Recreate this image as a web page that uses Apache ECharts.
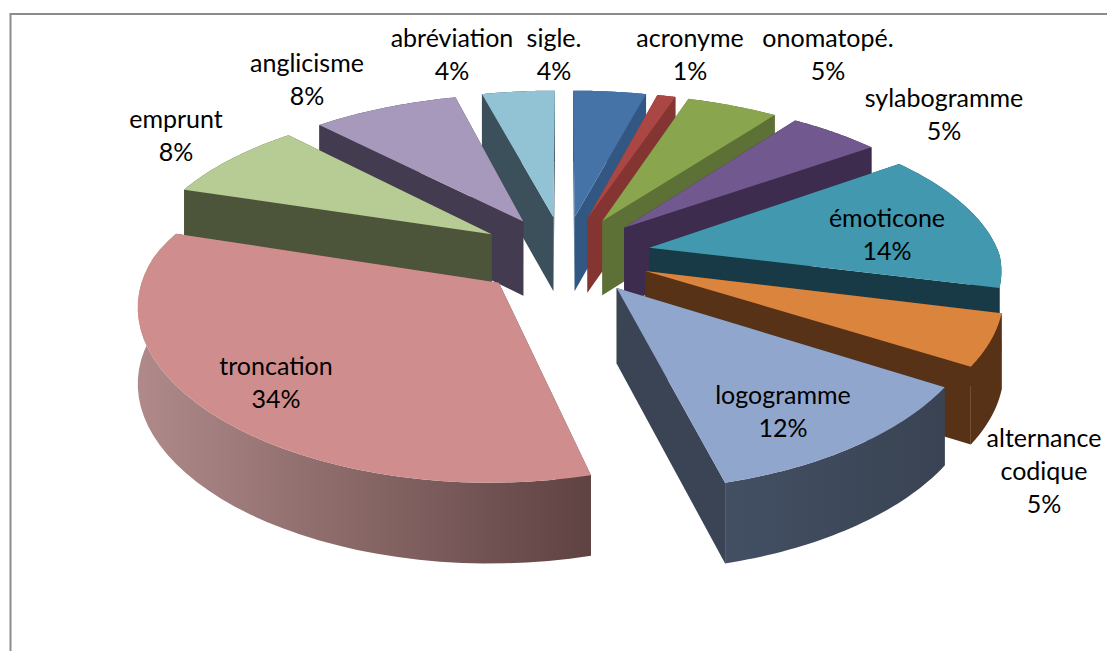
<!DOCTYPE html>
<html><head><meta charset="utf-8">
<style>html,body{margin:0;padding:0;background:#fff}#c{width:1107px;height:651px;font-variant-ligatures:none}#c text{font-variant-ligatures:none}</style>
<script src="https://cdn.jsdelivr.net/npm/echarts@6/dist/echarts.min.js"></script>
</head><body><div id="c"></div>
<script>
const categories = ['sigle.','acronyme','onomatopé.','sylabogramme','émoticone','alternance\ncodique','logogramme','troncation','emprunt','anglicisme','abréviation'];
const percents = [4,1,5,5,14,5,12,34,8,8,4];
const topColors = ['#4572A7','#AA4643','#89A54E','#71588F','#4198AF','#DB843D','#91A6CD','#CF8E8D','#B7CB94','#A799BC','#92C3D5'];
const wallColors = ['#325782','#843532','#5d7035','#3d2c4e','#183a46','#573217','#3a4455','#6a4747','#4c5439','#433c50','#3b505a'];
const arcStart = ['#325782','#843532','#5d7035','#3d2c4e','#183a46','#573217','#434f63','#b08a8a','#4c5439','#433c50','#3b505a'];
const arcEnd = ['#325782','#843532','#5d7035','#3d2c4e','#183a46','#573217','#394353','#5f4242','#4c5439','#433c50','#3b505a'];
const labelAnchors = [[554,53],[690,53],[828,53],[944,113],[887,233],[1044,470],[783,410],[276,381],[176,134],[307,78],[452,53]];

const view = {cx:564, cy:255, A:350, B:158, p:0.16, pFront:0.12, H0:50, H1:25, explode:0.25, steps:40};
const total = percents.reduce((a,b)=>a+b,0);
function project(X,Y,drop){
  const s = 1/(1-view.p*Y);
  const sx = Y<0 ? s : 1/(1-view.pFront*Y);
  return [view.cx+view.A*X*sx, view.cy+view.B*Y*s+(drop?view.H0+view.H1*s:0)];
}
function slice(i){
  let before=0; for(let k=0;k<i;k++) before+=percents[k];
  const a0=before/total*2*Math.PI, a1=(before+percents[i])/total*2*Math.PI, m=(a0+a1)/2;
  const ox=Math.sin(m)*view.explode, oy=-Math.cos(m)*view.explode;
  const arc=[];
  for(let t=0;t<=view.steps;t++){
    const a=a0+(a1-a0)*t/view.steps;
    arc.push([ox+Math.sin(a), oy-Math.cos(a)]);
  }
  return {ox,oy,arc,midY:oy};
}
function poly(points,fill,z2){
  return {type:'polygon',shape:{points},style:{fill,stroke:null},z2,silent:true};
}
function renderItem(params,api){
  const i=api.value(0), s=slice(i), apexT=project(s.ox,s.oy,false), apexB=project(s.ox,s.oy,true);
  const base=Math.round(1000+s.midY*4000);
  const top=s.arc.map(p=>project(p[0],p[1],false));
  const bot=s.arc.map(p=>project(p[0],p[1],true));
  const f=top[0], l=top[top.length-1], fb=bot[0], lb=bot[bot.length-1];
  return {type:'group',children:[
    poly([apexT,f,fb,apexB],wallColors[i],base),
    poly([apexT,l,lb,apexB],wallColors[i],base),
    poly(top.concat(bot.slice().reverse()),{type:'linear',x:0,y:0,x2:1,y2:0,colorStops:[{offset:0,color:arcStart[i]},{offset:1,color:arcEnd[i]}]},base+1),
    poly([apexT].concat(top),topColors[i],base+2)
  ]};
}
function renderLabel(params,api){
  const i=api.value(0), a=labelAnchors[i];
  return {type:'text',z2:5000,silent:true,style:{x:a[0],y:a[1],text:categories[i]+'\n'+api.value(1)+'%',fill:'#000',align:'center',verticalAlign:'middle',lineHeight:33,font:'25px Lato'}};
}
const chart=echarts.init(document.getElementById('c'),null,{renderer:'svg'});
const rows=percents.map((v,i)=>[i,v]);
chart.setOption({
  animation:false,backgroundColor:'#fff',
  graphic:[{type:'polyline',silent:true,shape:{points:[[10.5,651],[10.5,14],[1107,14]]},style:{stroke:'#8c8c8c',lineWidth:2,fill:null}}],
  series:[
    {type:'custom',coordinateSystem:'none',renderItem,data:rows,z:2},
    {type:'custom',coordinateSystem:'none',renderItem:renderLabel,data:rows,z:3}
  ]
});
</script></body></html>
